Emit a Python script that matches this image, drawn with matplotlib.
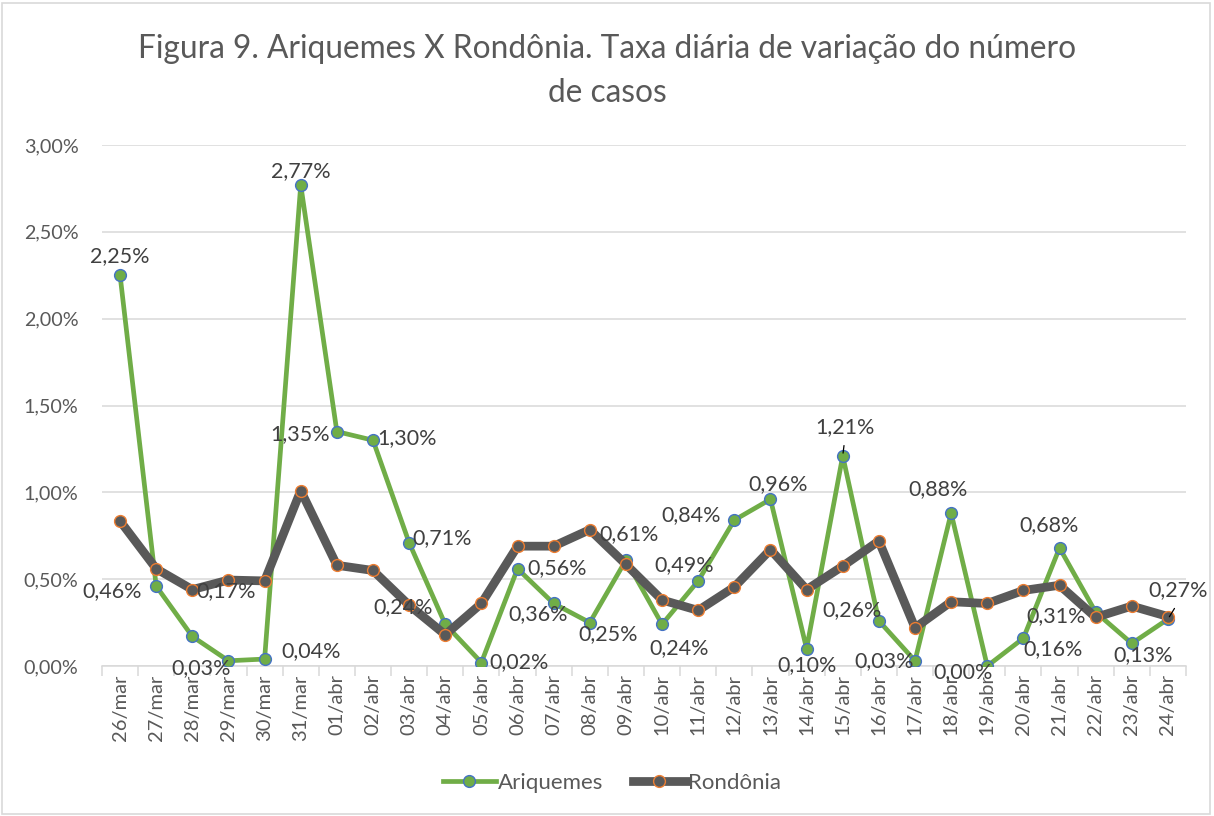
import matplotlib
matplotlib.use('Agg')
import matplotlib.pyplot as plt
from matplotlib.ticker import FuncFormatter, FixedLocator
from matplotlib.lines import Line2D
from matplotlib.patches import Rectangle

plt.rcParams['font.family'] = ['Lato', 'DejaVu Sans']

# ------------------------------------------------------------
# data (daily variation, %)
# ------------------------------------------------------------
dias = ["26/mar", "27/mar", "28/mar", "29/mar", "30/mar", "31/mar",
        "01/abr", "02/abr", "03/abr", "04/abr", "05/abr", "06/abr",
        "07/abr", "08/abr", "09/abr", "10/abr", "11/abr", "12/abr",
        "13/abr", "14/abr", "15/abr", "16/abr", "17/abr", "18/abr",
        "19/abr", "20/abr", "21/abr", "22/abr", "23/abr", "24/abr"]

ariquemes = [2.25, 0.46, 0.17, 0.03, 0.04, 2.77, 1.35, 1.30, 0.71, 0.24,
             0.02, 0.56, 0.36, 0.25, 0.61, 0.24, 0.49, 0.84, 0.96, 0.10,
             1.21, 0.26, 0.03, 0.88, 0.00, 0.16, 0.68, 0.31, 0.13, 0.27]

rondonia = [0.835, 0.56, 0.44, 0.495, 0.49, 1.01, 0.58, 0.55, 0.35, 0.18,
            0.36, 0.69, 0.69, 0.785, 0.585, 0.38, 0.32, 0.455, 0.67, 0.44,
            0.575, 0.72, 0.22, 0.37, 0.36, 0.435, 0.465, 0.28, 0.345, 0.285]

# label offsets (pixels, label centre relative to point; +y = up)
lbl_off = [(0, 19), (-44, -5), (34, 45), (-27, -7), (47, 8), (0, 14),
           (-37, -3), (34, 2), (33, 5), (-42, 17), (38, 0), (40, 1),
           (-16, -11), (18, -12), (3, 26), (17, -24), (-14, 16), (-43, 5),
           (8, 15), (0, -16), (2, 29), (-27, 11), (-31, 0), (-13, 24),
           (-24, -6), (30, -11), (-10, 23), (-40, -4), (11, -12), (10, 29)]
leader = [20, 29]

GREEN = "#70AD47"
GRAY = "#595959"
TXT = "#595959"

fig = plt.figure(figsize=(12.14, 8.16), dpi=100)
ax = fig.add_axes([102/1214, 150/816, 1084/1214, 521/816])

x = list(range(len(dias)))
ax.plot(x, ariquemes, color=GREEN, lw=3.4, marker='o', ms=8.5,
        mfc=GREEN, mec="#4472C4", mew=1.0, zorder=3, label="Ariquemes",
        solid_joinstyle='round')
ax.plot(x, rondonia, color=GRAY, lw=6.3, marker='o', ms=8.5,
        mfc=GRAY, mec="#ED7D31", mew=1.0, zorder=4, label="Rondônia",
        solid_joinstyle='round')

for i, v in enumerate(ariquemes):
    dx, dy = lbl_off[i]
    txt = f"{v:.2f}%".replace(".", ",")
    ax.annotate(txt, (i, v), xytext=(dx, dy), textcoords='offset pixels',
                ha='center', va='center', fontsize=15.5, color="#404040",
                zorder=6)
    if i in leader:
        ax.annotate("", (i, v), xytext=(dx * 0.8, dy * 0.45),
                    textcoords='offset pixels',
                    arrowprops=dict(arrowstyle='-', color='black', lw=0.9),
                    zorder=6)

ax.set_xlim(-0.5, len(dias) - 0.5)
ax.set_ylim(0, 3.0)
ax.set_yticks([0, 0.5, 1.0, 1.5, 2.0, 2.5, 3.0])
ax.yaxis.set_major_formatter(FuncFormatter(lambda v, p: f"{v:.2f}%".replace(".", ",")))
ax.grid(axis='y', color="#D9D9D9", lw=1.1)
ax.set_axisbelow(True)

ax.set_xticks(x)
ax.set_xticklabels(dias, rotation=90, fontsize=14.5, color=TXT)
ax.xaxis.set_minor_locator(FixedLocator([i - 0.5 for i in range(len(dias) + 1)]))
ax.tick_params(axis='x', which='major', length=0, pad=6)
ax.tick_params(axis='x', which='minor', length=7, color="#D9D9D9", width=1.1)
ax.tick_params(axis='y', length=0, labelsize=14.2, labelcolor=TXT, pad=17)

for s in ['top', 'right', 'left']:
    ax.spines[s].set_visible(False)
ax.spines['bottom'].set_color("#D9D9D9")
ax.spines['bottom'].set_linewidth(1.1)

fig.text(0.5, 1 - 71/816,
         "Figura 9. Ariquemes X Rondônia. Taxa diária de variação do número\nde casos",
         ha='center', va='center', fontsize=22.8, color=TXT, linespacing=1.6)

handles = [Line2D([], [], color=GREEN, lw=3.4, marker='o', ms=8.5, mfc=GREEN,
                  mec="#4472C4", mew=1.0),
           Line2D([], [], color=GRAY, lw=6.3, marker='o', ms=8.5, mfc=GRAY,
                  mec="#ED7D31", mew=1.0)]
fig.legend(handles, ["Ariquemes", "Rondônia"], loc='center',
           bbox_to_anchor=(612/1214, 1 - 783/816), ncol=2, frameon=False,
           fontsize=16, labelcolor=TXT, handlelength=2.4, handletextpad=0.1,
           columnspacing=1.3)

fig.patches.append(Rectangle((2/1214, 2/816), 1208/1214, 811/816,
                             transform=fig.transFigure, fill=False,
                             ec="#D9D9D9", lw=1.2))

plt.savefig("out.png", dpi=100)
